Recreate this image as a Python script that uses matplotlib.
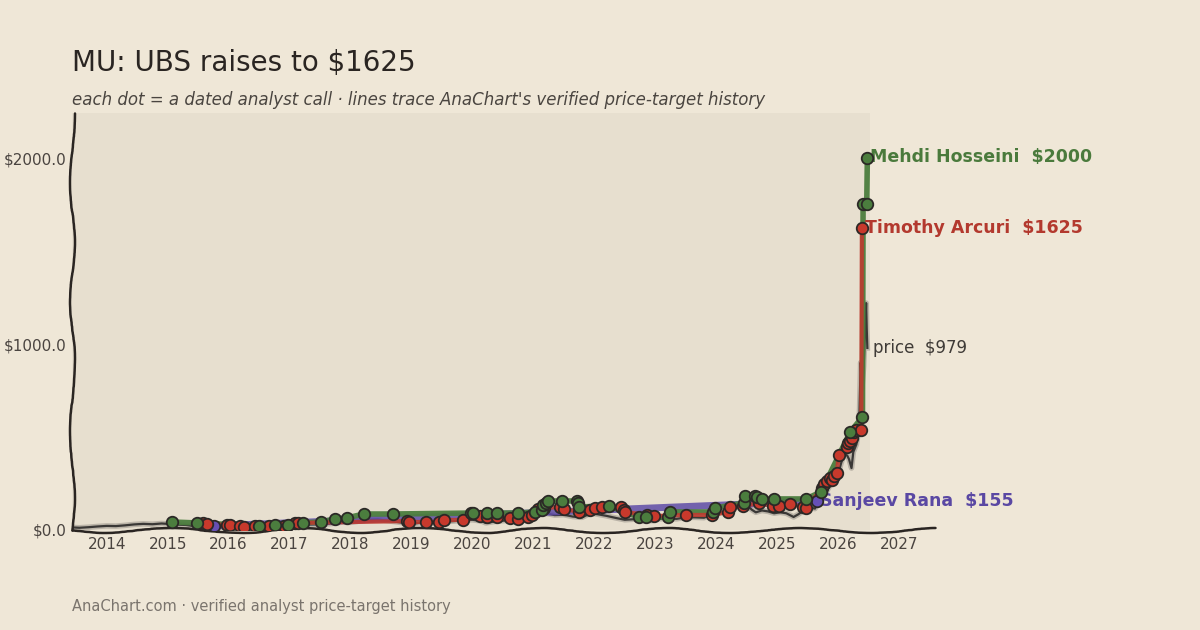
import matplotlib
matplotlib.use("Agg")
import matplotlib.pyplot as plt
import matplotlib.patheffects as pe
from matplotlib.ticker import FixedLocator, FuncFormatter

# ---------------- data ----------------
year_ticks = list(range(2014, 2028))
value_ticks = [0, 1000, 2000]

green_name = "Mehdi Hosseini"
green_dates = [2015.07, 2015.48, 2016.50, 2016.76, 2016.97, 2017.22, 2017.51, 2017.74, 2017.94,
               2018.22, 2018.69, 2019.98, 2020.01, 2020.24, 2020.40, 2020.75, 2021.03, 2021.14,
               2021.16, 2021.21, 2021.24, 2021.47, 2021.71, 2021.73, 2021.75, 2022.24, 2022.73,
               2022.85, 2023.21, 2023.24, 2023.95, 2023.98, 2024.45, 2024.47, 2024.64, 2024.67,
               2024.75, 2024.95, 2025.47, 2025.72, 2026.20, 2026.40, 2026.41, 2026.47, 2026.48]
green_vals = [43, 38, 22, 27, 27, 38, 43, 59, 65,
              86, 86, 91, 91, 91, 91, 91, 97, 108,
              134, 145, 156, 156, 156, 145, 124, 129, 70,
              70, 70, 97, 97, 118, 145, 183, 183, 177,
              167, 167, 167, 204, 527, 608, 1753, 1753, 2000]

red_name = "Timothy Arcuri"
red_dates = [2015.58, 2015.64, 2015.97, 2016.02, 2016.18, 2016.25, 2016.43, 2016.66, 2016.91,
             2017.09, 2017.14, 2018.92, 2018.96, 2019.24, 2019.45, 2019.53, 2019.84, 2020.12,
             2020.24, 2020.40, 2020.62, 2020.75, 2020.91, 2020.98, 2021.08, 2021.17, 2021.44,
             2021.50, 2021.75, 2021.93, 2022.01, 2022.13, 2022.44, 2022.48, 2022.50, 2022.86,
             2022.98, 2023.50, 2023.93, 2024.20, 2024.22, 2024.44, 2024.70, 2024.93, 2025.03,
             2025.21, 2025.43, 2025.47, 2025.74, 2025.77, 2025.82, 2025.87, 2025.90, 2025.93,
             2025.98, 2026.01, 2026.15, 2026.16, 2026.20, 2026.23, 2026.26, 2026.29, 2026.38,
             2026.39]
red_vals = [38, 32, 27, 27, 22, 16, 22, 22, 22,
            38, 38, 48, 43, 43, 43, 54, 54, 75,
            70, 70, 65, 59, 70, 81, 113, 118, 124,
            113, 97, 108, 118, 124, 124, 108, 97, 81,
            75, 81, 81, 97, 124, 129, 145, 129, 129,
            140, 124, 118, 226, 247, 263, 280, 269, 290,
            306, 403, 446, 468, 478, 495, 527, 538, 538,
            1625]

purple_name = "Sanjeev Rana"
purple_dates = [2015.76, 2025.66]
purple_vals = [22, 155]

price_dates = [2013.43, 2013.55, 2013.70, 2013.85, 2014.00, 2014.15, 2014.30, 2014.45, 2014.60,
               2014.75, 2014.90, 2015.00, 2015.15, 2015.30, 2015.45, 2015.60, 2015.75, 2015.90,
               2016.05, 2016.20, 2016.35, 2016.50, 2016.65, 2016.80, 2016.95, 2017.10, 2017.25,
               2017.40, 2017.55, 2017.70, 2017.85, 2018.00, 2018.15, 2018.30, 2018.45, 2018.60,
               2018.75, 2018.90, 2019.00, 2019.15, 2019.30, 2019.40, 2019.55, 2019.70, 2019.85,
               2020.00, 2020.15, 2020.22, 2020.35, 2020.50, 2020.65, 2020.80, 2020.95, 2021.05,
               2021.20, 2021.35, 2021.50, 2021.65, 2021.80, 2021.95, 2022.05, 2022.20, 2022.35,
               2022.50, 2022.65, 2022.80, 2022.95, 2023.05, 2023.20, 2023.35, 2023.50, 2023.65,
               2023.80, 2023.95, 2024.10, 2024.25, 2024.40, 2024.50, 2024.58, 2024.65, 2024.75,
               2024.85, 2024.95, 2025.05, 2025.15, 2025.27, 2025.35, 2025.45, 2025.55, 2025.62,
               2025.70, 2025.78, 2025.85, 2025.92, 2026.00, 2026.05, 2026.10, 2026.15, 2026.18,
               2026.22, 2026.25, 2026.30, 2026.33, 2026.35, 2026.37, 2026.39, 2026.42, 2026.44,
               2026.46, 2026.47, 2026.48]
price_vals = [14, 12, 15, 19, 22, 21, 25, 30, 33,
              31, 35, 33, 29, 27, 20, 17, 15, 16,
              12, 11, 12, 14, 16, 19, 22, 26, 29,
              30, 31, 35, 42, 41, 48, 55, 57, 50,
              44, 37, 32, 40, 44, 36, 45, 48, 52,
              55, 48, 38, 45, 50, 52, 48, 68, 78,
              90, 80, 82, 72, 68, 92, 85, 76, 65,
              55, 58, 52, 50, 60, 62, 60, 68, 68,
              66, 85, 95, 115, 128, 140, 110, 95, 105,
              100, 90, 95, 90, 70, 85, 110, 120, 115,
              160, 190, 230, 260, 300, 360, 410, 400, 380,
              333, 420, 460, 520, 620, 900, 760, 880, 1050,
              1220, 1080, 979]

title = "MU: UBS raises to $1625"
subtitle = "each dot = a dated analyst call \u00b7 lines trace AnaChart's verified price-target history"
footer = "AnaChart.com \u00b7 verified analyst price-target history"

# ---------------- style ----------------
BG = "#efe7d7"
PANEL = "#e7dfcf"
INK = "#2a2522"
GREEN = "#4b7d3e"
RED = "#bd3a2f"
PURPLE = "#5f4ca8"
GREEN_T = "#4a7a3c"
RED_T = "#b3392e"
PURPLE_T = "#5a48a3"
EDGE = "#2b2826"

plt.rcParams['font.family'] = ['DejaVu Sans']

X0, X1 = 2013.43, 2027.59
TODAY = 2026.53

fig = plt.figure(figsize=(12, 6.3), dpi=100, facecolor=BG)
ax = fig.add_axes([72 / 1200, 1 - 530 / 630, (935 - 72) / 1200, (530 - 113) / 630])
ax.set_facecolor(BG)
ax.set_xlim(X0, X1)
ax.set_ylim(0, 2242)
ax.axvspan(X0, TODAY, color=PANEL, lw=0, zorder=0)

for s in ('top', 'right'):
    ax.spines[s].set_visible(False)
for s in ('left', 'bottom'):
    ax.spines[s].set_color(INK)
    ax.spines[s].set_linewidth(1.8)
    ax.spines[s].set_sketch_params(scale=2.5, length=160, randomness=3)
    ax.spines[s].set_capstyle('round')

ax.xaxis.set_major_locator(FixedLocator(year_ticks))
ax.xaxis.set_major_formatter(FuncFormatter(lambda v, p: f"{int(round(v))}"))
ax.yaxis.set_major_locator(FixedLocator(value_ticks))
ax.yaxis.set_major_formatter(FuncFormatter(lambda v, p: f"${v:.1f}"))
ax.tick_params(axis='both', length=0, labelsize=11, labelcolor="#4a4440")
ax.tick_params(axis='x', pad=5)
ax.tick_params(axis='y', pad=4)

# price line
ax.plot(price_dates, price_vals, color="#3a3836", lw=1.6, zorder=2,
        solid_joinstyle='round',
        path_effects=[pe.Stroke(linewidth=4.0, foreground="#6a6560", alpha=0.35), pe.Normal()])

# analyst traces
ax.plot(purple_dates, purple_vals, color=PURPLE, lw=5, alpha=0.85, zorder=3,
        solid_capstyle='round')
ax.plot(green_dates, green_vals, color=GREEN, lw=4, alpha=0.95, zorder=3.2,
        solid_capstyle='round', solid_joinstyle='round')
ax.plot(red_dates, red_vals, color=RED, lw=3, alpha=0.9, zorder=3.4,
        solid_capstyle='round', solid_joinstyle='round')

mk = dict(marker='o', ms=8.3, mec=EDGE, mew=1.3, ls='none')
ax.plot(purple_dates, purple_vals, mfc="#6650b5", zorder=5, **mk)
ax.plot(red_dates, red_vals, mfc="#c8392c", zorder=5.2, **mk)
ax.plot(green_dates, green_vals, mfc=GREEN, zorder=5.4, **mk)

# end labels
ax.annotate(f"{green_name}  ${green_vals[-1]}", xy=(green_dates[-1], green_vals[-1]),
            xytext=(2, 1), textcoords='offset points', va='center', ha='left',
            color=GREEN_T, fontsize=12.5, fontweight='bold', zorder=4, annotation_clip=False)
ax.annotate(f"{red_name}  ${red_vals[-1]}", xy=(red_dates[-1], red_vals[-1]),
            xytext=(2, 0), textcoords='offset points', va='center', ha='left',
            color=RED_T, fontsize=12.5, fontweight='bold', zorder=4, annotation_clip=False)
ax.annotate(f"{purple_name}  ${purple_vals[-1]}", xy=(purple_dates[-1], purple_vals[-1]),
            xytext=(2, 0), textcoords='offset points', va='center', ha='left',
            color=PURPLE_T, fontsize=12.5, fontweight='bold', zorder=4, annotation_clip=False)
ax.annotate(f"price  ${price_vals[-1]}", xy=(price_dates[-1], price_vals[-1]),
            xytext=(4, 0), textcoords='offset points', va='center', ha='left',
            color="#3f3b37", fontsize=12, zorder=4, annotation_clip=False)

fig.text(72 / 1200, 1 - 63 / 630, title, fontsize=20, color=INK, va='center', ha='left')
fig.text(72 / 1200, 1 - 100 / 630, subtitle, fontsize=12, style='italic', color="#4a4540",
         va='center', ha='left')
fig.text(72 / 1200, 1 - 606 / 630, footer, fontsize=10.5, color="#7a746d", va='center', ha='left')

fig.savefig("out.png", dpi=100, facecolor=BG)
